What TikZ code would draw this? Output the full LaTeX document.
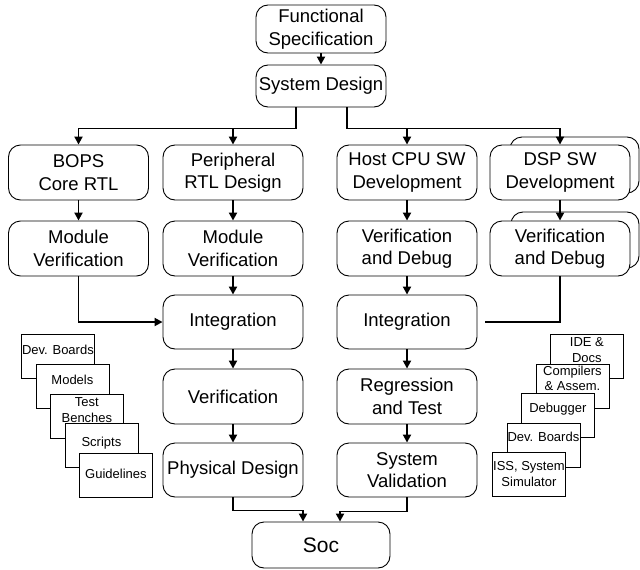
\documentclass[tikz,border=0pt]{standalone}
\usepackage{fontspec}
\setmainfont{Liberation Sans}
\usetikzlibrary{arrows.meta}
\begin{document}
\begin{tikzpicture}[x=1pt,y=-1pt,
  box/.style={draw, rounded corners=12pt, line width=0.9pt, fill=white, inner sep=0pt, align=center, font=\fontsize{18.5}{22.5}\selectfont},
  wh/.style 2 args={minimum width=#1pt, minimum height=#2pt},
  doc/.style={draw, line width=0.8pt, fill=white, minimum width=73pt, minimum height=44pt, inner sep=0pt, anchor=north west},
  doctxt/.style={align=center, inner sep=0pt, font=\fontsize{13}{15.5}\selectfont},
  conn/.style={line width=1.9pt, -{Triangle[length=8pt,width=8pt]}},
  plainconn/.style={line width=1.9pt},
  shadowbox/.style={draw, rounded corners=12pt, line width=0.9pt, fill=white}
]
\useasboundingbox (0,0) rectangle (640,570);

% top
\node[box, wh={130}{48}] (fs) at (321,29) {Functional\\Specification};
\node[box, wh={130}{42}] (sd) at (321,86) {System Design};

% row 1
\node[box, wh={140}{55}] (bops) at (78.5,172.5) {BOPS\\Core RTL};
\node[box, wh={140}{55}] (per) at (233,172.5) {Peripheral\\RTL Design};
\node[box, wh={140}{55}] (host) at (407,172.5) {Host CPU SW\\Development};
\draw[shadowbox] (510,137) rectangle (639,193);
\node[box, wh={140}{55}] (dsp) at (560,172.5) {DSP SW\\Development};

% row 2
\node[box, wh={140}{55}] (bmv) at (78.5,248.5) {Module\\Verification};
\node[box, wh={140}{55}] (pmv) at (233,248.5) {Module\\Verification};
\node[box, wh={140}{55}] (hvd) at (407,248.5) {Verification\\and Debug};
\draw[shadowbox] (511,212) rectangle (639,268);
\node[box, wh={140}{55}] (dvd) at (560,248.5) {Verification\\and Debug};

% row 3
\node[box, wh={140}{54}] (lint) at (233,322) {Integration};
\node[box, wh={140}{54}] (rint) at (407,322) {Integration};

% row 4
\node[box, wh={140}{55}] (lver) at (233,396.5) {Verification};
\node[box, wh={140}{55}] (rreg) at (407,396.5) {Regression\\and Test};

% row 5
\node[box, wh={140}{54}] (phys) at (233,470) {Physical Design};
\node[box, wh={140}{54}] (sysv) at (407,470) {System\\Validation};

% SoC
\node[box, wh={138}{46}, font=\fontsize{21}{24}\selectfont] (soc) at (321,545) {Soc};

% connectors
\draw[conn] (fs) -- (sd);
\draw[conn] ([xshift=-25pt]sd.south) -- ++(0,21) -| (bops.north);
\draw[conn] ([xshift=-25pt]sd.south) -- ++(0,21) -| (per.north);
\draw[conn] ([xshift=26pt]sd.south) -- ++(0,21) -| (host.north);
\draw[conn] ([xshift=26pt]sd.south) -- ++(0,21) -| (dsp.north);

\draw[conn] (bops) -- (bmv);
\draw[conn] (per) -- (pmv);
\draw[conn] (host) -- (hvd);
\draw[conn] (dsp) -- (dvd);
\draw[conn] (pmv) -- (lint);
\draw[conn] (hvd) -- (rint);
\draw[conn] (lint) -- (lver);
\draw[conn] (lver) -- (phys);
\draw[conn] (rint) -- (rreg);
\draw[conn] (rreg) -- (sysv);

\draw[conn] (bmv.south) |- (lint.west);
\draw[plainconn] (dvd.south) |- ([xshift=8pt]rint.east);

\draw[conn] (phys.south) -- ++(0,13) -| ([xshift=-18pt]soc.north);
\draw[conn] (sysv.south) -- ++(0,14) -| ([xshift=19pt]soc.north);

% left doc stack
\node[doc] (l1) at (21,334) {};
\node[doctxt] (l1t) at ([yshift=-16pt]l1.north) {Dev. Boards};
\node[doc] (l2) at (35.5,363.75) {};
\node[doctxt] (l2t) at ([yshift=-16.5pt]l2.north) {Models};
\node[doc] (l3) at (50,393.5) {};
\node[doctxt] (l3t) at ([yshift=-16.5pt]l3.north) {Test\\Benches};
\node[doc] (l4) at (64.5,423.25) {};
\node[doctxt] (l4t) at ([yshift=-20pt]l4.north) {Scripts};
\node[doc] (l5) at (79,453) {};
\node[doctxt] (l5t) at ([yshift=-21pt]l5.north) {Guidelines};

% right doc stack
\node[doc] (r1) at (550,334) {};
\node[doctxt] (r1t) at ([yshift=-16pt]r1.north) {IDE \&\\Docs};
\node[doc] (r2) at (535.5,363.5) {};
\node[doctxt] (r2t) at ([yshift=-15pt]r2.north) {Compilers\\\& Assem.};
\node[doc] (r3) at (521,393) {};
\node[doctxt] (r3t) at ([yshift=-16pt]r3.north) {Debugger};
\node[doc] (r4) at (506.5,422.5) {};
\node[doctxt] (r4t) at ([yshift=-14.5pt]r4.north) {Dev. Boards};
\node[doc] (r5) at (492,452) {};
\node[doctxt] (r5t) at ([yshift=-22pt]r5.north) {ISS, System\\Simulator};
\end{tikzpicture}
\end{document}
